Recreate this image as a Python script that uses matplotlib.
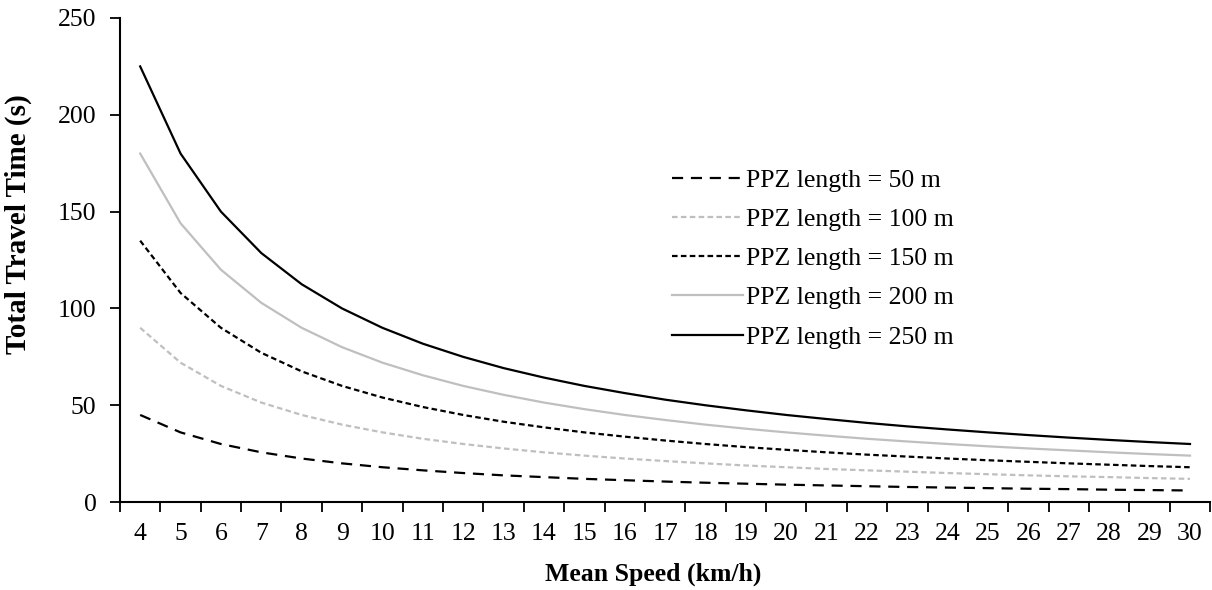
import matplotlib.pyplot as plt

plt.rcParams['font.family'] = ['Liberation Serif', 'DejaVu Serif']

speeds = list(range(4, 31))

t_50 = [45, 36, 30, 25.7, 22.5, 20, 18, 16.4, 15, 13.8, 12.9, 12, 11.3, 10.6,
        10, 9.5, 9, 8.6, 8.2, 7.8, 7.5, 7.2, 6.9, 6.7, 6.4, 6.2, 6]
t_100 = [90, 72, 60, 51.4, 45, 40, 36, 32.7, 30, 27.7, 25.7, 24, 22.5, 21.2,
         20, 18.9, 18, 17.1, 16.4, 15.7, 15, 14.4, 13.8, 13.3, 12.9, 12.4, 12]
t_150 = [135, 108, 90, 77.1, 67.5, 60, 54, 49.1, 45, 41.5, 38.6, 36, 33.8, 31.8,
         30, 28.4, 27, 25.7, 24.5, 23.5, 22.5, 21.6, 20.8, 20, 19.3, 18.6, 18]
t_200 = [180, 144, 120, 102.9, 90, 80, 72, 65.5, 60, 55.4, 51.4, 48, 45, 42.4,
         40, 37.9, 36, 34.3, 32.7, 31.3, 30, 28.8, 27.7, 26.7, 25.7, 24.8, 24]
t_250 = [225, 180, 150, 128.6, 112.5, 100, 90, 81.8, 75, 69.2, 64.3, 60, 56.3, 52.9,
         50, 47.4, 45, 42.9, 40.9, 39.1, 37.5, 36, 34.6, 33.3, 32.1, 31.0, 30]

labels = ['PPZ length = 50 m', 'PPZ length = 100 m', 'PPZ length = 150 m',
          'PPZ length = 200 m', 'PPZ length = 250 m']

gray = '#bfbfbf'
fs = 18.5

fig = plt.figure(figsize=(12.12, 5.90), dpi=100)
ax = fig.add_axes([0.099, 0.149, 0.8995, 0.8205])

ax.plot(speeds, t_50, color='black', lw=1.6, dashes=(5, 3.5), label=labels[0])
ax.plot(speeds, t_100, color=gray, lw=1.6, dashes=(2.5, 1.5), label=labels[1])
ax.plot(speeds, t_150, color='black', lw=1.6, dashes=(2.5, 1.5), label=labels[2])
ax.plot(speeds, t_200, color=gray, lw=1.6, label=labels[3])
ax.plot(speeds, t_250, color='black', lw=1.6, label=labels[4])

ax.set_xlim(3.5, 30.5)
ax.set_ylim(0, 250)
ax.set_xticks(speeds)
ax.set_xticklabels([str(s) for s in speeds])
ax.set_xticks([s - 0.5 for s in speeds] + [30.5], minor=True)
ax.tick_params(axis='x', which='major', length=0, labelsize=fs, pad=15)
ax.tick_params(axis='x', which='minor', length=7, width=1.3, direction='out')
ax.set_yticks(range(0, 251, 50))
ax.tick_params(axis='y', length=7, width=1.3, direction='out', labelsize=fs, pad=10)

ax.spines['top'].set_visible(False)
ax.spines['right'].set_visible(False)
ax.spines['left'].set_linewidth(1.5)
ax.spines['bottom'].set_linewidth(1.5)

ax.set_xlabel('Mean Speed (km/h)', fontsize=fs, fontweight='bold')
ax.set_ylabel('Total Travel Time (s)', fontsize=21, fontweight='bold')
ax.xaxis.set_label_coords(0.489, -0.124)
ax.yaxis.set_label_coords(-0.081, 0.574)

ax.legend(loc='upper left', bbox_to_anchor=(0.485, 0.736), frameon=False,
          fontsize=fs, handlelength=2.75, handletextpad=0.15, labelspacing=0.63)

fig.savefig('out.png', dpi=100)
